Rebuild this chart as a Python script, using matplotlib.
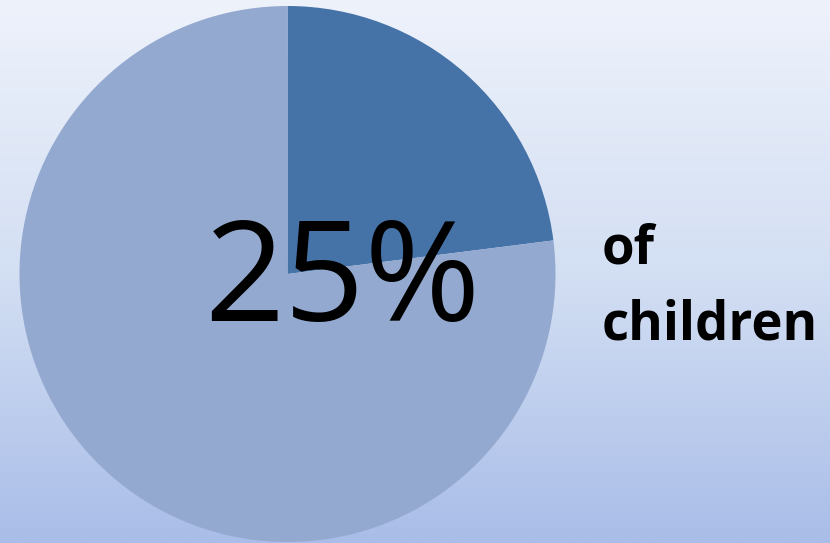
import numpy as np
import matplotlib
matplotlib.use("Agg")
import matplotlib.pyplot as plt
from matplotlib.colors import LinearSegmentedColormap

labels = ["Children affected", "Other children"]
values = [23, 77]
colors = ["#4573a7", "#94a9d0"]
big_label = "25%"
side_label = "of\nchildren"

W, H = 830, 543
fig = plt.figure(figsize=(W / 100, H / 100), dpi=100)

# background gradient
bg = fig.add_axes([0, 0, 1, 1])
cmap = LinearSegmentedColormap.from_list("bg", ["#eef2fb", "#d3dff3", "#a9bde8"])
grad = np.linspace(0, 1, 256).reshape(-1, 1)
bg.imshow(grad, aspect="auto", cmap=cmap, extent=[0, 1, 0, 1], origin="upper")
bg.set_axis_off()

cx, cy, r = 287.5, 274, 268
ax = fig.add_axes([(cx - r) / W, (H - cy - r) / H, 2 * r / W, 2 * r / H])
ax.pie(values, colors=colors, startangle=90, counterclock=False, radius=1,
       wedgeprops=dict(linewidth=0))
ax.set_xlim(-1, 1)
ax.set_ylim(-1, 1)
ax.set_aspect("equal")
ax.set_axis_off()

fig.text(342 / W, 1 - 321 / H, big_label, ha="center", va="baseline",
         fontsize=101, family="Open Sans", color="black")
fig.text(602 / W, 1 - 340 / H, side_label, ha="left", va="baseline",
         fontsize=38, family="Open Sans", fontweight="bold", color="black",
         linespacing=1.55)

fig.savefig("out.png", dpi=100)
